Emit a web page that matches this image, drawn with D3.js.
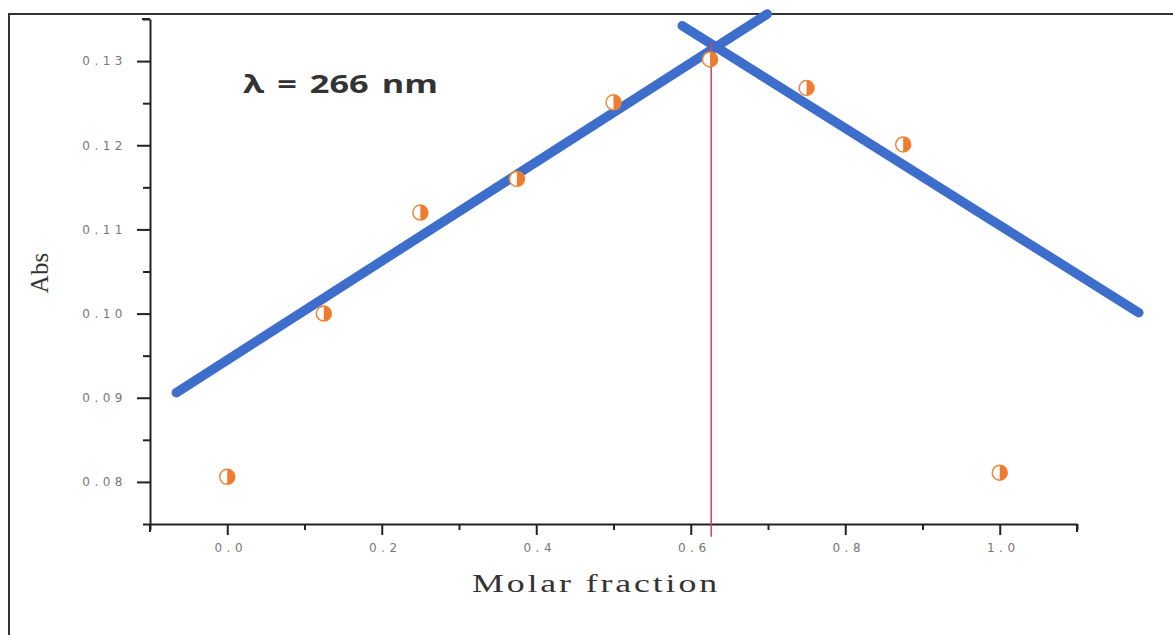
<!DOCTYPE html>
<html>
<head>
<meta charset="utf-8">
<script src="https://cdn.jsdelivr.net/npm/d3@7"></script>
<style>
  body { margin: 0; background: #fff; }
  svg { display: block; }
</style>
</head>
<body>
<div id="chart"></div>
<script>
"use strict";

// measured points (Job's plot)
const molarFraction = [0, 0.125, 0.25, 0.375, 0.5, 0.625, 0.75, 0.875, 1.0];
const absValues = [0.0806, 0.1000, 0.1120, 0.1160, 0.1251, 0.1302, 0.1268, 0.1201, 0.0811];

// fitted straight lines, given by their end points
const riseLine = [[-0.066, 0.0906], [0.699, 0.1356]];
const fallLine = [[0.589, 0.1342], [1.180, 0.1001]];

// crossing point marker
const crossX = 0.6265;
const crossY = [0.0735, 0.1322];

const xTicks = [0, 0.2, 0.4, 0.6, 0.8, 1.0];
const yTicks = [0.08, 0.09, 0.10, 0.11, 0.12, 0.13];

const width = 1173, height = 635;
const plotLeft = 150, plotRight = 1077, plotTop = 19, plotBottom = 524;

const svg = d3.select("#chart").append("svg")
  .attr("width", width)
  .attr("height", height);

// outer frame (only top and left are visible)
svg.append("path")
  .attr("d", `M9,${height} V14 H${width}`)
  .attr("fill", "none")
  .attr("stroke", "#333")
  .attr("stroke-width", 2);

const x = d3.scaleLinear().domain([-0.1, 1.1]).range([plotLeft, plotRight]);
const y = d3.scaleLinear().domain([0.075, 0.135]).range([plotBottom, plotTop]);

// minor ticks
const xMinor = d3.range(-0.1, 1.1001, 0.1).filter(v => Math.abs(Math.round(v * 10) % 2) === 1);
const yMinor = d3.range(0.075, 0.1351, 0.005).filter(v => Math.abs(Math.round(v * 1000) % 10) === 5);

svg.append("g")
  .attr("class", "xaxis")
  .attr("transform", `translate(0,${plotBottom})`)
  .call(d3.axisBottom(x).tickValues(xTicks).tickSize(11).tickPadding(8)
    .tickSizeOuter(0).tickFormat(d3.format(".1f")));

svg.append("g")
  .attr("transform", `translate(0,${plotBottom})`)
  .call(d3.axisBottom(x).tickValues(xMinor).tickSize(6).tickSizeOuter(0).tickFormat(""))
  .select(".domain").remove();

svg.append("g")
  .attr("class", "yaxis")
  .attr("transform", `translate(${plotLeft},0)`)
  .call(d3.axisLeft(y).tickValues(yTicks).tickSize(13).tickPadding(14)
    .tickSizeOuter(0).tickFormat(d3.format(".2f")));

svg.append("g")
  .attr("transform", `translate(${plotLeft},0)`)
  .call(d3.axisLeft(y).tickValues(yMinor).tickSize(7).tickSizeOuter(0).tickFormat(""))
  .select(".domain").remove();

svg.selectAll("g .domain").attr("stroke", "#222").attr("stroke-width", 2);
svg.selectAll("g .tick line").attr("stroke", "#222").attr("stroke-width", 2);

// end ticks on the axis ends
svg.append("line")
  .attr("x1", plotLeft).attr("x2", plotLeft)
  .attr("y1", plotBottom).attr("y2", plotBottom + 8)
  .attr("stroke", "#222").attr("stroke-width", 2);
svg.append("line")
  .attr("x1", plotRight).attr("x2", plotRight)
  .attr("y1", plotBottom).attr("y2", plotBottom + 8)
  .attr("stroke", "#222").attr("stroke-width", 2);
svg.append("line")
  .attr("x1", plotLeft).attr("x2", plotLeft - 8)
  .attr("y1", plotTop).attr("y2", plotTop)
  .attr("stroke", "#222").attr("stroke-width", 2);

svg.selectAll(".tick text")
  .attr("fill", "#777")
  .style("fill", "#777")
  .style("font-family", "'DejaVu Sans', sans-serif")
  .style("font-size", "12px")
  .style("letter-spacing", "4.5px");

svg.selectAll(".yaxis .tick text").attr("dx", 4);
svg.selectAll(".xaxis .tick text").attr("dx", 3);

// axis titles
svg.append("text")
  .attr("x", 472)
  .attr("y", 592)
  .attr("fill", "#333")
  .attr("textLength", 248)
  .attr("lengthAdjust", "spacingAndGlyphs")
  .style("font-family", "'Liberation Serif', serif")
  .style("font-size", "25px")
  .style("letter-spacing", "2px")
  .text("Molar fraction");

svg.append("text")
  .attr("transform", "translate(48,273) rotate(-90)")
  .attr("text-anchor", "middle")
  .attr("fill", "#333")
  .style("font-family", "'Liberation Serif', serif")
  .style("font-size", "25px")
  .text("Abs");

svg.append("text")
  .attr("x", 243)
  .attr("y", 93)
  .attr("fill", "#333")
  .attr("textLength", 195)
  .attr("lengthAdjust", "spacingAndGlyphs")
  .style("font-family", "'Open Sans', sans-serif")
  .style("font-weight", "bold")
  .style("font-size", "25px")
  .style("word-spacing", "3px")
  .text("λ = 266 nm");

// fitted lines
const line = d3.line().x(d => x(d[0])).y(d => y(d[1]));
svg.selectAll(".fit")
  .data([riseLine, fallLine])
  .enter()
  .append("path")
  .attr("class", "fit")
  .attr("d", line)
  .attr("fill", "none")
  .attr("stroke", "#3e6ecc")
  .attr("stroke-width", 9.5)
  .attr("stroke-linecap", "round");

// red drop line at the intersection
svg.append("line")
  .attr("x1", x(crossX)).attr("x2", x(crossX))
  .attr("y1", y(crossY[0])).attr("y2", y(crossY[1]))
  .attr("stroke", "#d8405a")
  .attr("stroke-width", 1.5);

// half-filled markers
const points = molarFraction.map((m, i) => [m, absValues[i]]);
const r = 7.5;
const marks = svg.selectAll(".pt")
  .data(points)
  .enter()
  .append("g")
  .attr("class", "pt")
  .attr("transform", d => `translate(${x(d[0])},${y(d[1])})`);

marks.append("circle")
  .attr("r", r)
  .attr("fill", "#fff")
  .attr("stroke", "#f0883a")
  .attr("stroke-width", 1.5);

marks.append("path")
  .attr("d", `M0,${-r} A${r},${r} 0 0 1 0,${r} Z`)
  .attr("fill", "#ef7c2e");
</script>
</body>
</html>
